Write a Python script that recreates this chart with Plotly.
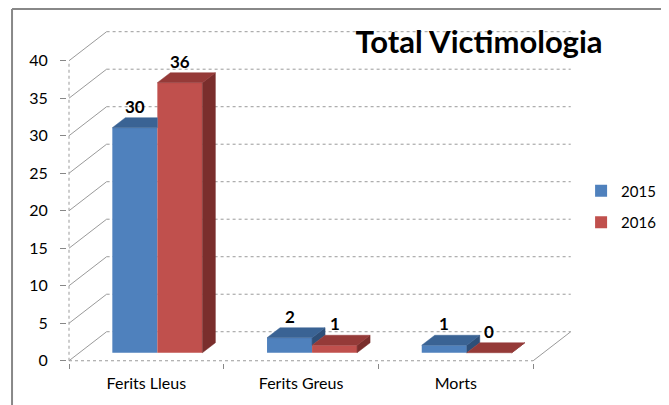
import plotly.graph_objects as go

categories = ["Ferits Lleus", "Ferits Greus", "Morts"]
v2015 = [30, 2, 1]
v2016 = [36, 1, 0]
series_names = ["2015", "2016"]
y_ticks = [0, 5, 10, 15, 20, 25, 30, 35, 40]
title_text = "Total Victimologia"

# pseudo-3D geometry (in axis units)
DX, DY = 0.243, 3.87      # floor / wall depth
OFF, BY = 0.071, 1.07     # bar front offset from the floor front
W = 0.291                 # bar width
DDX, DDY = 0.084, 1.33    # bar depth

BLUE, BLUE_TOP, BLUE_SIDE = "#4F81BD", "#3A6394", "#2E4F78"
RED, RED_TOP, RED_SIDE = "#C0504D", "#953A38", "#7A2E2C"
GRID = "#9A9A9A"
FONT = "Lato"

idx = list(range(len(categories)))
fig = go.Figure()

# front faces
fig.add_trace(go.Bar(x=[i + OFF - W / 2 for i in idx], y=v2015, base=BY, width=W,
                     marker=dict(color=BLUE, line=dict(width=0)), name=series_names[0],
                     hoverinfo="skip", legendgroup="a"))
fig.add_trace(go.Bar(x=[i + OFF + W / 2 for i in idx], y=v2016, base=BY, width=W,
                     marker=dict(color=RED, line=dict(width=0)), name=series_names[1],
                     hoverinfo="skip", legendgroup="b"))

def poly_trace(xs, ys, color):
    return go.Scatter(x=xs, y=ys, mode="lines", fill="toself", fillcolor=color,
                      line=dict(color=color, width=0.5), showlegend=False, hoverinfo="skip")

bs_x, bs_y, bt_x, bt_y, rs_x, rs_y, rt_x, rt_y = [], [], [], [], [], [], [], []
for i in idx:
    xc = i + OFF
    xl, xr, xr2 = xc - W, xc, xc + W
    tb, tr = BY + v2015[i], BY + v2016[i]
    if tb > tr:
        bs_x += [xr, xr, xr + DDX, xr + DDX, xr, None]
        bs_y += [tr, tb, tb + DDY, tr + DDY, tr, None]
    if tr > tb:
        bt_x += [xl, xr, xr, xl + DDX, xl, None]
        bt_y += [tb, tb, tb + DDY, tb + DDY, tb, None]
    else:
        bt_x += [xl, xr, xr + DDX, xl + DDX, xl, None]
        bt_y += [tb, tb, tb + DDY, tb + DDY, tb, None]
    rs_x += [xr2, xr2, xr2 + DDX, xr2 + DDX, xr2, None]
    rs_y += [BY, tr, tr + DDY, BY + DDY, BY, None]
    rt_x += [xr, xr2, xr2 + DDX, xr + DDX, xr, None]
    rt_y += [tr, tr, tr + DDY, tr + DDY, tr, None]

if bs_x:
    fig.add_trace(poly_trace(bs_x, bs_y, BLUE_SIDE))
fig.add_trace(poly_trace(bt_x, bt_y, BLUE_TOP))
fig.add_trace(poly_trace(rs_x, rs_y, RED_SIDE))
fig.add_trace(poly_trace(rt_x, rt_y, RED_TOP))

# data labels
annotations = []
for i in idx:
    xc = i + OFF
    for vals, xpos in ((v2015, xc - W / 2), (v2016, xc + W / 2)):
        annotations.append(dict(x=xpos, y=BY + vals[i] + DDY, xref="x", yref="y",
                                text=str(vals[i]), showarrow=False, yanchor="bottom",
                                yshift=-1, font=dict(family=FONT, size=17, color="black",
                                                     weight="bold")))

# walls / gridlines
x0, x1 = -0.5, len(categories) - 0.5
shapes = []
for v in y_ticks:
    shapes.append(dict(type="line", xref="x", yref="y", x0=x0 + DX, x1=x1 + DX,
                       y0=v + DY, y1=v + DY, line=dict(color=GRID, width=1, dash="dot"),
                       layer="below"))
    shapes.append(dict(type="line", xref="x", yref="y", x0=x0, x1=x0 + DX,
                       y0=v, y1=v + DY, line=dict(color=GRID, width=1), layer="below"))
shapes.append(dict(type="line", xref="x", yref="y", x0=x0, x1=x0, y0=0, y1=y_ticks[-1],
                   line=dict(color=GRID, width=1, dash="dot"), layer="below"))
shapes.append(dict(type="line", xref="x", yref="y", x0=x0, x1=x1, y0=0, y1=0,
                   line=dict(color=GRID, width=1, dash="dot"), layer="below"))
shapes.append(dict(type="line", xref="x", yref="y", x0=x1, x1=x1 + DX, y0=0, y1=DY,
                   line=dict(color=GRID, width=1), layer="below"))
# chart border (left and top)
shapes.append(dict(type="line", xref="paper", yref="paper", x0=-0.108, x1=-0.108,
                   y0=-0.2, y1=1.0504, line=dict(color="#888888", width=2)))
shapes.append(dict(type="line", xref="paper", yref="paper", x0=-0.108, x1=1.2,
                   y0=1.0504, y1=1.0504, line=dict(color="#888888", width=2)))

fig.update_layout(
    width=669, height=405,
    margin=dict(l=59, r=101, t=18, b=50, autoexpand=False),
    paper_bgcolor="white", plot_bgcolor="white",
    barmode="overlay",
    font=dict(family=FONT, size=16, color="black"),
    title=dict(text=title_text, xref="container", yref="container",
               x=471 / 669, y=1 - 34 / 405, xanchor="center", yanchor="middle",
               font=dict(family=FONT, size=31, color="black", weight="bold")),
    showlegend=True,
    legend=dict(x=1.010, y=0.559, xanchor="left", yanchor="top",
                font=dict(family=FONT, size=15), tracegroupgap=9,
                traceorder="grouped", bgcolor="rgba(0,0,0,0)", itemwidth=30),
    annotations=annotations,
    shapes=shapes,
    xaxis=dict(range=[-0.513, 2.777], tickvals=idx, ticktext=categories, ticks="",
               showgrid=False, zeroline=False, showline=False, ticklabelstandoff=9,
               tickfont=dict(size=16),
               minor=dict(tickmode="array", tickvals=[x0 + k for k in range(len(categories) + 1)],
                          ticks="outside", ticklen=5, tickcolor="#888888", showgrid=False),
               fixedrange=True),
    yaxis=dict(range=[-0.3, 44.63], tickvals=y_ticks, ticks="outside", ticklen=6,
               tickcolor="#888888", showgrid=False, zeroline=False, showline=False,
               tickfont=dict(size=16), ticklabelstandoff=9, fixedrange=True),
)

fig.write_html("out.html")
